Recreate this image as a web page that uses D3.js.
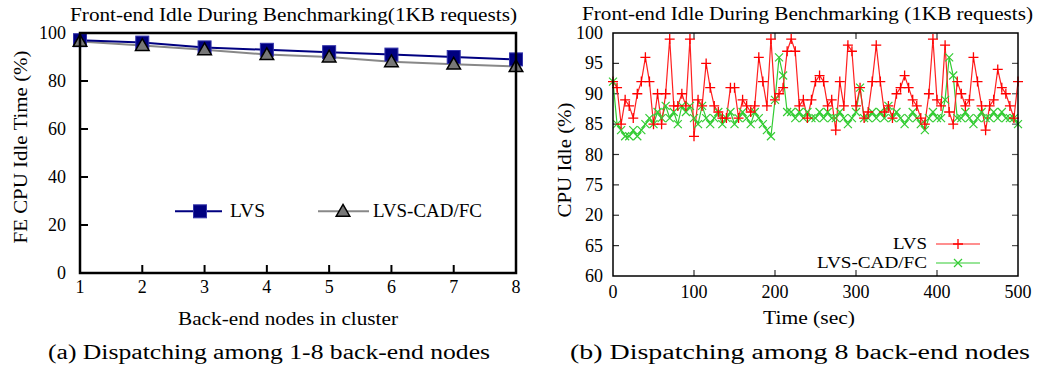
<!DOCTYPE html>
<html>
<head>
<meta charset="utf-8">
<script src="https://cdn.jsdelivr.net/npm/d3@7.9.0/dist/d3.min.js"></script>
<style>
  body { margin: 0; background: #fff; }
  svg { display: block; font-family: "Liberation Serif", "Times New Roman", serif; }
</style>
</head>
<body>
<svg id="chart" width="1037" height="369"></svg>
<script>
// ---- left chart data (a) ----
const nodes = [1, 2, 3, 4, 5, 6, 7, 8];
const lvsIdle = [97, 96, 94, 93, 92, 91, 90, 89];
const cadIdle = [96.5, 94.8, 93, 91, 90, 88, 87, 86];
const leftYTicks = [0, 20, 40, 60, 80, 100];

// ---- right chart data (b) ----
const times = [
  0, 5, 10, 15, 20, 25, 30, 35, 40, 45, 50, 55, 60, 65, 70, 75, 80, 85, 90, 95,
  100, 105, 110, 115, 120, 125, 130, 135, 140, 145, 150, 155, 160, 165, 170, 175, 180, 185, 190, 195,
  200, 205, 210, 215, 220, 225, 230, 235, 240, 245, 250, 255, 260, 265, 270, 275, 280, 285, 290, 295,
  300, 305, 310, 315, 320, 325, 330, 335, 340, 345, 350, 355, 360, 365, 370, 375, 380, 385, 390, 395,
  400, 405, 410, 415, 420, 425, 430, 435, 440, 445, 450, 455, 460, 465, 470, 475, 480, 485, 490, 495, 500
];
const lvsTrace = [
  92, 91, 85, 89, 88, 86, 90, 92, 96, 92, 85, 90, 85, 90, 99, 88, 88, 90, 88, 99,
  83, 89, 88, 95, 91, 88, 87, 86, 86, 91, 91, 86, 89, 88, 87, 88, 96, 92, 88, 99,
  89, 90, 91, 97, 99, 97, 88, 89, 86, 89, 92, 93, 92, 88, 89, 84, 92, 88, 98, 97,
  88, 91, 86, 87, 92, 98, 92, 87, 88, 86, 90, 91, 93, 91, 89, 88, 86, 85, 90, 99,
  89, 88, 98, 87, 85, 92, 90, 88, 89, 96, 92, 88, 84, 88, 89, 94, 91, 90, 88, 86, 92
];
const cadTrace = [
  92, 85, 84, 83, 83, 84, 83, 84, 85, 86, 85, 87, 86, 88, 86, 87, 85, 88, 87, 88,
  86, 85, 88, 86, 85, 86, 87, 85, 86, 87, 85, 86, 87, 86, 85, 87, 86, 85, 84, 83,
  89, 96, 93, 87, 87, 86, 87, 86, 87, 86, 86, 87, 86, 87, 86, 86, 87, 86, 85, 86,
  87, 91, 86, 86, 87, 86, 87, 86, 88, 86, 87, 86, 85, 86, 87, 86, 85, 84, 86, 87,
  86, 86, 89, 96, 93, 86, 86, 87, 86, 85, 86, 87, 86, 86, 87, 86, 87, 86, 86, 86, 85
];
const rightYTicks = [60, 65, 70, 75, 80, 85, 90, 95, 100];
const rightYLabels = ['60', '65', '20', '75', '80', '85', '90', '95', '100'];
const rightXTicks = [0, 100, 200, 300, 400, 500];

const svg = d3.select('#chart');

// the source figure has wide-set lettering; stretch a label to a measured width
function label(g, txt, x, y, size, width, opts = {}) {
  const t = g.append('text')
    .attr('x', x).attr('y', y)
    .attr('text-anchor', opts.anchor || 'middle')
    .attr('font-size', size)
    .text(txt);
  if (opts.rotate) t.attr('transform', `rotate(-90,${x},${y})`);
  if (width) t.attr('textLength', width).attr('lengthAdjust', 'spacingAndGlyphs');
  return t;
}

// ============ (a) left chart ============
function drawLeft() {
  const area = { left: 80, right: 516, top: 33, bottom: 273 };
  const x = d3.scaleLinear().domain([1, 8]).range([area.left, area.right]);
  const y = d3.scaleLinear().domain([0, 100]).range([area.bottom, area.top]);
  const g = svg.append('g');

  // ticks (inward)
  g.append('g').selectAll('line')
    .data(nodes.slice(1, -1))
    .join('line')
    .attr('x1', d => x(d)).attr('x2', d => x(d))
    .attr('y1', area.bottom).attr('y2', area.bottom - 8)
    .attr('stroke', '#000').attr('stroke-width', 2);
  g.append('g').selectAll('line')
    .data(leftYTicks.slice(1, -1))
    .join('line')
    .attr('x1', area.left).attr('x2', area.left + 8)
    .attr('y1', d => y(d)).attr('y2', d => y(d))
    .attr('stroke', '#000').attr('stroke-width', 2);

  // tick labels
  g.append('g').selectAll('text')
    .data(nodes)
    .join('text')
    .attr('x', d => x(d)).attr('y', area.bottom + 20)
    .attr('text-anchor', 'middle')
    .attr('font-size', 18)
    .text(d => d);
  g.append('g').selectAll('text')
    .data(leftYTicks)
    .join('text')
    .attr('x', area.left - 14).attr('y', d => y(d) + 6)
    .attr('text-anchor', 'end')
    .attr('font-size', 18)
    .text(d => d);

  // lines
  const line = d3.line().x((d, i) => x(nodes[i])).y(d => y(d));
  g.append('path').datum(cadIdle)
    .attr('d', line).attr('fill', 'none')
    .attr('stroke', '#888').attr('stroke-width', 2);
  g.append('path').datum(lvsIdle)
    .attr('d', line).attr('fill', 'none')
    .attr('stroke', '#000080').attr('stroke-width', 2);

  const tri = d3.symbol().type(d3.symbolTriangle).size(80);
  g.append('g').selectAll('rect')
    .data(lvsIdle)
    .join('rect')
    .attr('x', (d, i) => x(nodes[i]) - 6.5).attr('y', d => y(d) - 6.5)
    .attr('width', 13).attr('height', 13)
    .attr('fill', '#000080').attr('stroke', '#3333aa').attr('stroke-width', 1);
  g.append('g').selectAll('path')
    .data(cadIdle)
    .join('path')
    .attr('d', tri)
    .attr('transform', (d, i) => `translate(${x(nodes[i])},${y(d) + 1})`)
    .attr('fill', '#777').attr('stroke', '#000').attr('stroke-width', 1.5);

  // frame
  g.append('rect')
    .attr('x', area.left).attr('y', area.top)
    .attr('width', area.right - area.left).attr('height', area.bottom - area.top)
    .attr('fill', 'none').attr('stroke', '#000').attr('stroke-width', 2.5);

  // legend
  const ly = y(25.7);
  g.append('line').attr('x1', 175).attr('x2', 222).attr('y1', ly).attr('y2', ly)
    .attr('stroke', '#000080').attr('stroke-width', 2);
  g.append('rect').attr('x', 193.5).attr('y', ly - 6.5).attr('width', 13).attr('height', 13)
    .attr('fill', '#000080').attr('stroke', '#3333aa');
  label(g, 'LVS', 230, ly + 6, 18, 35, { anchor: 'start' });
  g.append('line').attr('x1', 318).attr('x2', 369).attr('y1', ly).attr('y2', ly)
    .attr('stroke', '#888').attr('stroke-width', 2);
  g.append('path').attr('d', tri).attr('transform', `translate(343,${ly + 1})`)
    .attr('fill', '#777').attr('stroke', '#000').attr('stroke-width', 1.5);
  label(g, 'LVS-CAD/FC', 373, ly + 6, 18, 109, { anchor: 'start' });

  // titles
  label(g, 'Front-end Idle During Benchmarking(1KB requests)', 293.5, 21, 18, 447);
  label(g, 'FE CPU Idle Time (%)', 27, 147, 18, 193, { rotate: true });
  label(g, 'Back-end nodes in cluster', 288, 325, 18, 220);
  label(g, '(a) Dispatching among 1-8 back-end nodes', 269, 359, 20, 442);
}

// ============ (b) right chart ============
function drawRight() {
  const area = { left: 613, right: 1018, top: 33, bottom: 276 };
  const x = d3.scaleLinear().domain([0, 500]).range([area.left, area.right]);
  const y = d3.scaleLinear().domain([60, 100]).range([area.bottom, area.top]);
  const g = svg.append('g');

  // inward ticks on all sides
  const yt = rightYTicks.slice(1, -1);
  const xt = rightXTicks.slice(1, -1);
  g.append('g').selectAll('line').data(yt).join('line')
    .attr('x1', area.left).attr('x2', area.left + 6)
    .attr('y1', d => y(d)).attr('y2', d => y(d))
    .attr('stroke', '#333').attr('stroke-width', 1.2);
  g.append('g').selectAll('line').data(yt).join('line')
    .attr('x1', area.right).attr('x2', area.right - 6)
    .attr('y1', d => y(d)).attr('y2', d => y(d))
    .attr('stroke', '#555').attr('stroke-width', 1.2);
  g.append('g').selectAll('line').data(xt).join('line')
    .attr('x1', d => x(d)).attr('x2', d => x(d))
    .attr('y1', area.bottom).attr('y2', area.bottom - 6)
    .attr('stroke', '#333').attr('stroke-width', 1.2);
  g.append('g').selectAll('line').data(xt).join('line')
    .attr('x1', d => x(d)).attr('x2', d => x(d))
    .attr('y1', area.top).attr('y2', area.top + 6)
    .attr('stroke', '#333').attr('stroke-width', 1.2);

  // tick labels
  g.append('g').selectAll('text').data(rightYTicks).join('text')
    .attr('x', area.left - 10).attr('y', d => y(d) + 6)
    .attr('text-anchor', 'end').attr('font-size', 18)
    .text((d, i) => rightYLabels[i]);
  g.append('g').selectAll('text').data(rightXTicks).join('text')
    .attr('x', d => x(d)).attr('y', area.bottom + 22)
    .attr('text-anchor', 'middle').attr('font-size', 18)
    .text(d => d);

  // series
  const line = d3.line().x((d, i) => x(times[i])).y(d => y(d));
  g.append('path').datum(cadTrace).attr('d', line)
    .attr('fill', 'none').attr('stroke', '#33cc33').attr('stroke-width', 1.2);
  g.append('path').datum(lvsTrace).attr('d', line)
    .attr('fill', 'none').attr('stroke', '#ff2020').attr('stroke-width', 1.2);

  const plusPath = 'M-5,0H5M0,-5V5';
  const xPath = 'M-4,-4L4,4M-4,4L4,-4';
  g.append('g').selectAll('path').data(cadTrace).join('path')
    .attr('d', xPath)
    .attr('transform', (d, i) => `translate(${x(times[i])},${y(d)})`)
    .attr('stroke', '#33cc33').attr('stroke-width', 1.2).attr('fill', 'none');
  g.append('g').selectAll('path').data(lvsTrace).join('path')
    .attr('d', plusPath)
    .attr('transform', (d, i) => `translate(${x(times[i])},${y(d)})`)
    .attr('stroke', '#ff0000').attr('stroke-width', 1.3).attr('fill', 'none');

  // frame
  g.append('rect')
    .attr('x', area.left).attr('y', area.top)
    .attr('width', area.right - area.left).attr('height', area.bottom - area.top)
    .attr('fill', 'none').attr('stroke', '#000').attr('stroke-width', 1.5);

  // legend
  const l1 = 244, l2 = 263;
  label(g, 'LVS', 927, l1 + 5, 16, 34, { anchor: 'end' });
  g.append('line').attr('x1', 936).attr('x2', 980).attr('y1', l1).attr('y2', l1)
    .attr('stroke', '#ff2020').attr('stroke-width', 1.2);
  g.append('path').attr('d', plusPath).attr('transform', `translate(958,${l1})`)
    .attr('stroke', '#ff0000').attr('stroke-width', 1.3);
  label(g, 'LVS-CAD/FC', 927, l2 + 5, 16, 110, { anchor: 'end' });
  g.append('line').attr('x1', 936).attr('x2', 980).attr('y1', l2).attr('y2', l2)
    .attr('stroke', '#33cc33').attr('stroke-width', 1.2);
  g.append('path').attr('d', xPath).attr('transform', `translate(958,${l2})`)
    .attr('stroke', '#33cc33').attr('stroke-width', 1.2);

  // titles
  label(g, 'Front-end Idle During Benchmarking (1KB requests)', 807.5, 20, 18, 451);
  label(g, 'CPU Idle (%)', 571, 160, 18, 115, { rotate: true });
  label(g, 'Time (sec)', 809, 324, 18, 92);
  label(g, '(b) Dispatching among 8 back-end nodes', 800, 359, 20, 460);
}

drawLeft();
drawRight();
</script>
</body>
</html>
